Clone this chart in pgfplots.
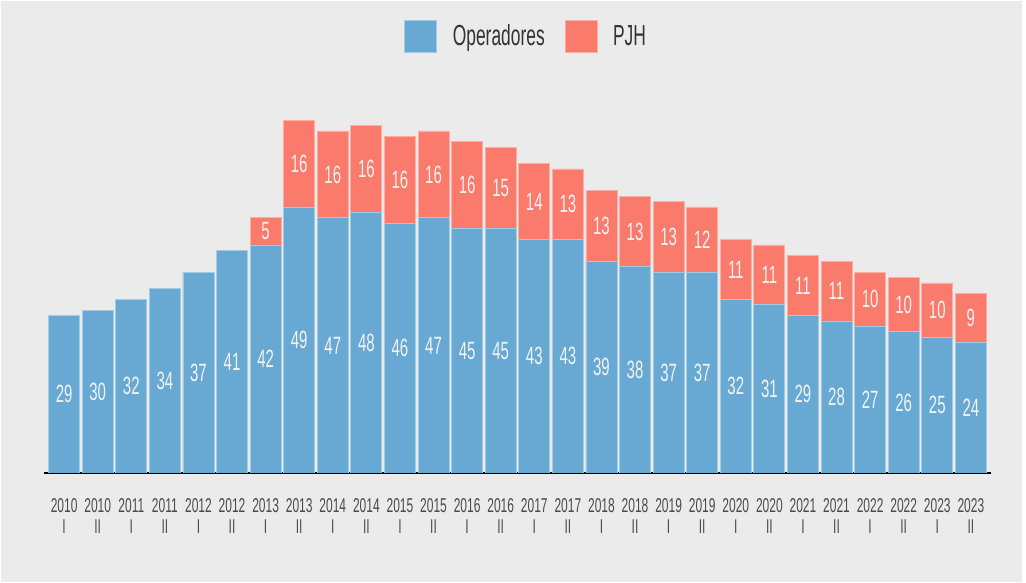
\documentclass[border=0pt]{standalone}
\usepackage{pgfplots}
\pgfplotsset{compat=1.18}
\usepackage{pgfplotstable}
\usepackage{fontspec}
\setmainfont[FakeStretch=0.6]{Liberation Sans}
\definecolor{bgc}{HTML}{EBEBEB}
\definecolor{opc}{HTML}{67A9D2}
\definecolor{pjc}{HTML}{FA7A6C}
\definecolor{yrc}{HTML}{4A4A4A}

\pgfplotstableread{
x op pjh
0 29 0
1 30 0
2 32 0
3 34 0
4 37 0
5 41 0
6 42 5
7 49 16
8 47 16
9 48 16
10 46 16
11 47 16
12 45 16
13 45 15
14 43 14
15 43 13
16 39 13
17 38 13
18 37 13
19 37 12
20 32 11
21 31 11
22 29 11
23 28 11
24 27 10
25 26 10
26 25 10
27 24 9
}\data

\begin{document}
\begin{tikzpicture}
\fill[white] (0,0) rectangle (1026pt,583pt);
\fill[bgc] (1pt,1pt) rectangle (1022pt,582pt);
\useasboundingbox (0,0) rectangle (1026pt,583pt);
\begin{axis}[
  at={(44pt,110pt)}, anchor=south west,
  scale only axis, width=947pt, height=380pt,
  xmin=-0.6, xmax=27.6, ymin=0, ymax=70,
  axis x line*=bottom, axis y line=none,
  x axis line style={black, line width=1.6pt, -},
  major tick length=0pt,
  xtick={0,...,27},
  xticklabels={{2010\\I},{2010\\II},{2011\\I},{2011\\II},{2012\\I},{2012\\II},{2013\\I},{2013\\II},{2014\\I},{2014\\II},{2015\\I},{2015\\II},{2016\\I},{2016\\II},{2017\\I},{2017\\II},{2018\\I},{2018\\II},{2019\\I},{2019\\II},{2020\\I},{2020\\II},{2021\\I},{2021\\II},{2022\\I},{2022\\II},{2023\\I},{2023\\II}},
  xticklabel style={align=center, font=\fontsize{20}{21}\selectfont, text=yrc, yshift=-22pt},
  legend style={at={(0.509,1.15)}, anchor=center, draw=none, fill=none,
    font=\fontsize{29}{30}\selectfont, text=black!80, legend columns=2,
    /tikz/every even column/.append style={column sep=18pt}},
  legend image code/.code={\fill[#1] (0pt,-16pt) rectangle (32pt,16pt); \path (46pt,0pt);},
  every node near coord/.append style={font=\fontsize{25}{26}\selectfont, text=white!95!black, anchor=center},
]
\addplot[ybar, bar width=31pt, bar shift=0pt, fill=pjc, draw=pjc!60!white, line width=0.8pt, forget plot]
  table[x=x, y expr=\thisrow{op}+\thisrow{pjh}] {\data};
\addplot[ybar, bar width=31pt, bar shift=0pt, fill=opc, draw=opc!60!white, line width=0.8pt]
  table[x=x, y=op] {\data};
\addlegendentry{Operadores}
\addlegendimage{ybar, fill=pjc, draw=pjc!60!white}
\addlegendentry{PJH}
\addplot[draw=none, mark=none, nodes near coords, point meta=explicit symbolic, forget plot]
  table[x=x, y expr=\thisrow{op}/2, meta=op] {\data};
\addplot[draw=none, mark=none, nodes near coords, point meta=explicit symbolic, forget plot, skip coords between index={0}{6}]
  table[x=x, y expr=\thisrow{op}+\thisrow{pjh}/2, meta=pjh] {\data};
\end{axis}
\end{tikzpicture}
\end{document}
